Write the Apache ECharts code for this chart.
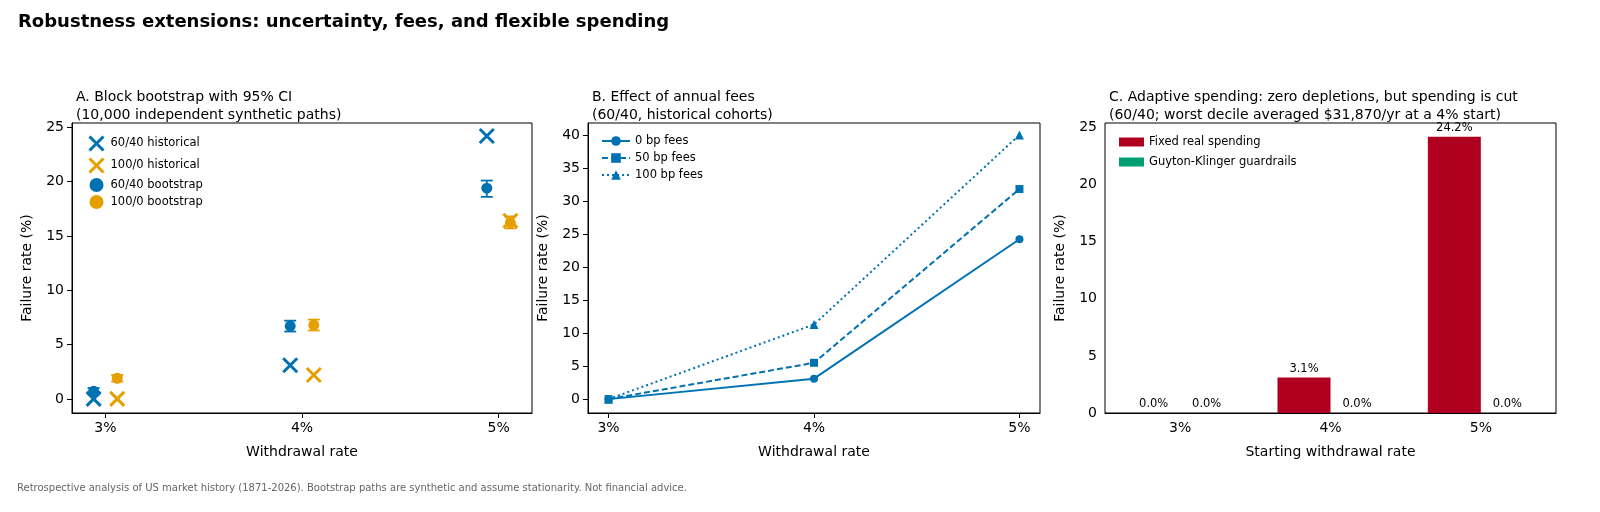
<!DOCTYPE html>
<html><head><meta charset="utf-8">
<script src="https://cdn.jsdelivr.net/npm/echarts@6/dist/echarts.min.js"></script>
<style>html,body{margin:0;background:#fff}#c{width:1600px;height:512px}</style>
</head><body><div id="c"></div>
<script>
const rates = [3, 4, 5];
const rateLabels = ['3%', '4%', '5%'];
// Panel A
const hist6040 = [0, 3.1, 24.2];
const hist1000 = [0, 2.2, 16.4];
const boot6040 = [0.7, 6.7, 19.4];
const boot6040Lo = [0.4, 6.2, 18.6];
const boot6040Hi = [1.0, 7.2, 20.1];
const boot1000 = [1.9, 6.8, 16.2];
const boot1000Lo = [1.6, 6.3, 15.7];
const boot1000Hi = [2.2, 7.3, 16.8];
// Panel B
const fee0 = [0, 3.1, 24.2];
const fee50 = [0, 5.5, 31.8];
const fee100 = [0, 11.3, 40.0];
// Panel C
const fixedSpend = [0, 3.1, 24.2];
const guardrails = [0, 0, 0];

const BLUE = '#0072b2', ORANGE = '#e69f00', RED = '#b00020', GREEN = '#009e73';
const off = 0.06;
const F = 'DejaVu Sans';
const chart = echarts.init(document.getElementById('c'));

function errSeries(name, vals, lo, hi, shift, color) {
  return {
    type: 'custom', name, xAxisIndex: 0, yAxisIndex: 0, z: 3,
    data: rates.map((r, i) => [r + shift, lo[i], hi[i]]),
    renderItem: (p, api) => {
      const a = api.coord([api.value(0), api.value(1)]);
      const b = api.coord([api.value(0), api.value(2)]);
      const w = 6, st = { stroke: color, lineWidth: 1.8 };
      return { type: 'group', children: [
        { type: 'line', shape: { x1: a[0], y1: a[1], x2: b[0], y2: b[1] }, style: st },
        { type: 'line', shape: { x1: a[0]-w, y1: a[1], x2: a[0]+w, y2: a[1] }, style: st },
        { type: 'line', shape: { x1: b[0]-w, y1: b[1], x2: b[0]+w, y2: b[1] }, style: st }
      ]};
    },
    silent: true
  };
}
const xPath = 'path://M0,0L10,10M10,0L0,10';
const axisCommon = {
  axisLine: { onZero: false, lineStyle: { color: '#000' } },
  axisTick: { lineStyle: { color: '#000' } },
  axisLabel: { color: '#000', fontFamily: F, fontSize: 14 },
  nameTextStyle: { color: '#000', fontFamily: F, fontSize: 14 }
};
const rateFmt = v => Math.round(v) + '%';

chart.setOption({
  animation: false,
  title: [
    { text: 'Robustness extensions: uncertainty, fees, and flexible spending', left: 13, top: 8,
      textStyle: { fontFamily: F, fontSize: 18, fontWeight: 'bold', color: '#000' } },
    { text: 'A. Block bootstrap with 95% CI\n(10,000 independent synthetic paths)', left: 71, top: 83,
      textStyle: { fontFamily: F, fontSize: 14, fontWeight: 'normal', color: '#000', lineHeight: 18 } },
    { text: 'B. Effect of annual fees\n(60/40, historical cohorts)', left: 587, top: 83,
      textStyle: { fontFamily: F, fontSize: 14, fontWeight: 'normal', color: '#000', lineHeight: 18 } },
    { text: 'C. Adaptive spending: zero depletions, but spending is cut\n(60/40; worst decile averaged $31,870/yr at a 4% start)', left: 1104, top: 83,
      textStyle: { fontFamily: F, fontSize: 14, fontWeight: 'normal', color: '#000', lineHeight: 18 } },
    { text: 'Retrospective analysis of US market history (1871-2026). Bootstrap paths are synthetic and assume stationarity. Not financial advice.',
      left: 12, top: 478, textStyle: { fontFamily: F, fontSize: 10, fontWeight: 'normal', color: '#666' } }
  ],
  grid: [
    { left: 72, top: 123, width: 460, height: 290, show: true, borderColor: '#000', borderWidth: 1 },
    { left: 588, top: 123, width: 452, height: 290, show: true, borderColor: '#000', borderWidth: 1 },
    { left: 1105, top: 123, width: 451, height: 290, show: true, borderColor: '#000', borderWidth: 1 }
  ],
  legend: [
    { left: 82, top: 129, orient: 'vertical', itemGap: 3, itemWidth: 18, itemHeight: 14,
      textStyle: { fontFamily: F, fontSize: 11.5, color: '#000' },
      data: [
        { name: '60/40 historical', icon: xPath, itemStyle: { borderColor: BLUE, borderWidth: 3, color: 'none' } },
        { name: '100/0 historical', icon: xPath, itemStyle: { borderColor: ORANGE, borderWidth: 3, color: 'none' } },
        { name: '60/40 bootstrap', icon: 'circle' },
        { name: '100/0 bootstrap', icon: 'circle' }
      ] },
    { left: 596, top: 130, orient: 'vertical', itemGap: 5, itemWidth: 28, itemHeight: 12,
      textStyle: { fontFamily: F, fontSize: 11.5, color: '#000' },
      data: ['0 bp fees', '50 bp fees', '100 bp fees'] },
    { left: 1114, top: 131, orient: 'vertical', itemGap: 8, itemWidth: 25, itemHeight: 9, icon: 'rect',
      textStyle: { fontFamily: F, fontSize: 11.5, color: '#000' },
      data: ['Fixed real spending', 'Guyton-Klinger guardrails'] }
  ],
  xAxis: [
    { ...axisCommon, type: 'value', gridIndex: 0, min: 2.83, max: 5.17,
      name: 'Withdrawal rate', nameLocation: 'middle', nameGap: 32,
      axisTick: { lineStyle: { color: '#000' }, customValues: rates },
      axisLabel: { ...axisCommon.axisLabel, customValues: rates, formatter: rateFmt },
      splitLine: { show: false } },
    { ...axisCommon, type: 'value', gridIndex: 1, min: 2.9, max: 5.1,
      name: 'Withdrawal rate', nameLocation: 'middle', nameGap: 32,
      axisTick: { lineStyle: { color: '#000' }, customValues: rates },
      axisLabel: { ...axisCommon.axisLabel, customValues: rates, formatter: rateFmt },
      splitLine: { show: false } },
    { ...axisCommon, type: 'category', gridIndex: 2, data: rateLabels,
      name: 'Starting withdrawal rate', nameLocation: 'middle', nameGap: 32,
      axisTick: { show: false } }
  ],
  yAxis: [
    { ...axisCommon, type: 'value', gridIndex: 0, min: -1.3, max: 25.4,
      name: 'Failure rate (%)', nameLocation: 'middle', nameGap: 38,
      axisLabel: { ...axisCommon.axisLabel, customValues: [0,5,10,15,20,25] },
      axisTick: { lineStyle: { color: '#000' }, customValues: [0,5,10,15,20,25] }, splitLine: { show: false } },
    { ...axisCommon, type: 'value', gridIndex: 1, min: -2.1, max: 41.8,
      name: 'Failure rate (%)', nameLocation: 'middle', nameGap: 38,
      axisLabel: { ...axisCommon.axisLabel, customValues: [0,5,10,15,20,25,30,35,40] },
      axisTick: { lineStyle: { color: '#000' }, customValues: [0,5,10,15,20,25,30,35,40] }, splitLine: { show: false } },
    { ...axisCommon, type: 'value', gridIndex: 2, min: 0, max: 25.4,
      name: 'Failure rate (%)', nameLocation: 'middle', nameGap: 38,
      axisLabel: { ...axisCommon.axisLabel, customValues: [0,5,10,15,20,25] },
      axisTick: { lineStyle: { color: '#000' }, customValues: [0,5,10,15,20,25] },
      splitLine: { show: false } }
  ],
  series: [
    { type: 'scatter', name: '60/40 historical', xAxisIndex: 0, yAxisIndex: 0, symbol: xPath, symbolSize: 14,
      itemStyle: { color: 'none', borderColor: BLUE, borderWidth: 3, opacity: 1 }, z: 4,
      data: rates.map((r, i) => [r - off, hist6040[i]]) },
    { type: 'scatter', name: '100/0 historical', xAxisIndex: 0, yAxisIndex: 0, symbol: xPath, symbolSize: 14,
      itemStyle: { color: 'none', borderColor: ORANGE, borderWidth: 3, opacity: 1 }, z: 4,
      data: rates.map((r, i) => [r + off, hist1000[i]]) },
    { type: 'scatter', name: '60/40 bootstrap', xAxisIndex: 0, yAxisIndex: 0, symbolSize: 11,
      itemStyle: { color: BLUE, opacity: 1 },
      data: rates.map((r, i) => [r - off, boot6040[i]]) },
    { type: 'scatter', name: '100/0 bootstrap', xAxisIndex: 0, yAxisIndex: 0, symbolSize: 11,
      itemStyle: { color: ORANGE, opacity: 1 },
      data: rates.map((r, i) => [r + off, boot1000[i]]) },
    errSeries('e1', boot6040, boot6040Lo, boot6040Hi, -off, BLUE),
    errSeries('e2', boot1000, boot1000Lo, boot1000Hi, off, ORANGE),
    { type: 'line', name: '0 bp fees', xAxisIndex: 1, yAxisIndex: 1, symbol: 'circle', symbolSize: 8,
      lineStyle: { color: BLUE, width: 2 }, itemStyle: { color: BLUE },
      data: rates.map((r, i) => [r, fee0[i]]) },
    { type: 'line', name: '50 bp fees', xAxisIndex: 1, yAxisIndex: 1, symbol: 'rect', symbolSize: 8,
      lineStyle: { color: BLUE, width: 2, type: [6, 3] }, itemStyle: { color: BLUE },
      data: rates.map((r, i) => [r, fee50[i]]) },
    { type: 'line', name: '100 bp fees', xAxisIndex: 1, yAxisIndex: 1, symbol: 'triangle', symbolSize: 9,
      lineStyle: { color: BLUE, width: 2, type: [2, 3] }, itemStyle: { color: BLUE },
      data: rates.map((r, i) => [r, fee100[i]]) },
    { type: 'bar', name: 'Fixed real spending', xAxisIndex: 2, yAxisIndex: 2, barWidth: 53, barGap: '0%',
      itemStyle: { color: RED },
      label: { show: true, position: 'top', distance: 3, fontFamily: F, fontSize: 11.5, color: '#000', formatter: p => p.value.toFixed(1) + '%' },
      data: fixedSpend },
    { type: 'bar', name: 'Guyton-Klinger guardrails', xAxisIndex: 2, yAxisIndex: 2, barWidth: 53,
      itemStyle: { color: GREEN },
      label: { show: true, position: 'top', distance: 3, fontFamily: F, fontSize: 11.5, color: '#000', formatter: p => p.value.toFixed(1) + '%' },
      data: guardrails }
  ]
});
</script></body></html>
